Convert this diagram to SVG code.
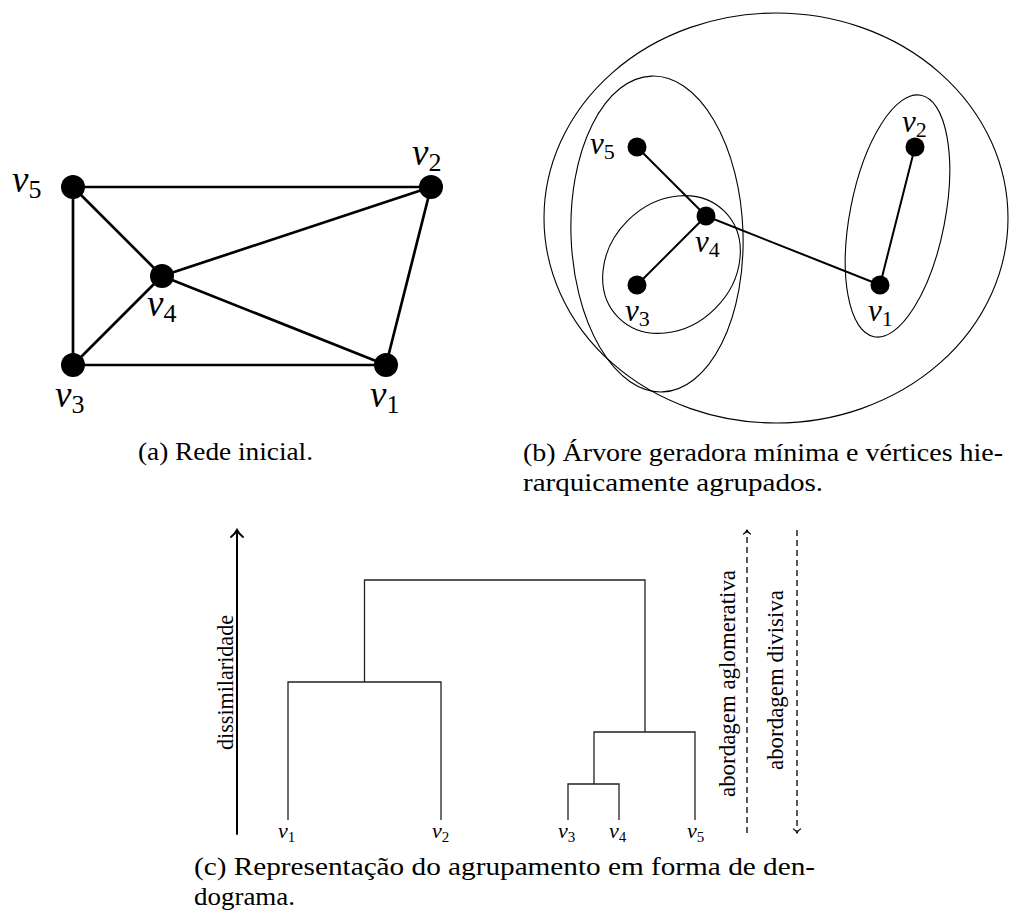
<svg xmlns="http://www.w3.org/2000/svg" width="1035" height="921" viewBox="0 0 1035 921">
<style>
.ea{stroke:#000;stroke-width:2.7;fill:none;stroke-linecap:round}
.eb{stroke:#000;stroke-width:2;fill:none;stroke-linecap:round}
.ell{stroke:#000;stroke-width:1.1;fill:none}
.dn{stroke:#222;stroke-width:1.3;fill:none}
.na{fill:#000}
text{font-family:"Liberation Serif",serif;fill:#000}
.mi{font-style:italic}
.sub{font-style:normal}
.la{font-size:37px}
.la .sub{font-size:26px}
.lb{font-size:31px}
.lb .sub{font-size:22px}
.lc{font-size:22px}
.lc .sub{font-size:15px}
.cap{font-size:25px}
.rot{font-size:23px}
.ax{stroke:#000;stroke-width:2;fill:none;stroke-linecap:round}
.dash{stroke:#000;stroke-width:1.3;fill:none;stroke-dasharray:6 4}
.ah{stroke:#000;stroke-width:1.3;fill:none;stroke-linecap:round;stroke-linejoin:round}
</style>

<!-- Panel (a) -->
<g id="connectors-a">
<line class="ea" x1="73" y1="187" x2="431" y2="187"/>
<line class="ea" x1="73" y1="187" x2="73" y2="365"/>
<line class="ea" x1="73" y1="187" x2="162" y2="276"/>
<line class="ea" x1="162" y1="276" x2="431" y2="187"/>
<line class="ea" x1="162" y1="276" x2="73" y2="365"/>
<line class="ea" x1="162" y1="276" x2="386" y2="365"/>
<line class="ea" x1="73" y1="365" x2="386" y2="365"/>
<line class="ea" x1="386" y1="365" x2="431" y2="187"/>
</g>
<g id="a-v5"><circle class="na" cx="73" cy="187" r="12"/><text class="mi la" x="12" y="192" font-family="Liberation Serif">v<tspan class="sub" dy="6">5</tspan></text></g>
<g id="a-v2"><circle class="na" cx="431" cy="187" r="12"/><text class="mi la" x="412" y="165" font-family="Liberation Serif">v<tspan class="sub" dy="6">2</tspan></text></g>
<g id="a-v4"><circle class="na" cx="162" cy="276" r="12"/><text class="mi la" x="147" y="316" font-family="Liberation Serif">v<tspan class="sub" dy="6">4</tspan></text></g>
<g id="a-v3"><circle class="na" cx="73" cy="365" r="12"/><text class="mi la" x="55" y="407" font-family="Liberation Serif">v<tspan class="sub" dy="6">3</tspan></text></g>
<g id="a-v1"><circle class="na" cx="386" cy="365" r="12"/><text class="mi la" x="370" y="407" font-family="Liberation Serif">v<tspan class="sub" dy="6">1</tspan></text></g>
<text class="cap" x="138" y="460" textLength="175" lengthAdjust="spacingAndGlyphs">(a) Rede inicial.</text>

<!-- Panel (b) -->
<g id="clusters-b">
<ellipse class="ell" cx="776" cy="218" rx="232" ry="205"/>
<ellipse class="ell" cx="657" cy="234" rx="86" ry="158" transform="rotate(-2 657 234)"/>
<ellipse class="ell" cx="671.5" cy="264.5" rx="75" ry="62" transform="rotate(-45 671.5 264.5)"/>
<ellipse class="ell" cx="897.5" cy="216" rx="47.5" ry="123" transform="rotate(11 897.5 216)"/>
</g>
<g id="connectors-b">
<line class="eb" x1="637" y1="147" x2="706" y2="216"/>
<line class="eb" x1="706" y1="216" x2="637" y2="285"/>
<line class="eb" x1="706" y1="216" x2="880" y2="285"/>
<line class="eb" x1="880" y1="285" x2="915" y2="147"/>
</g>
<g id="b-v5"><circle class="na" cx="637" cy="147" r="9.5"/><text class="mi lb" x="590" y="154">v<tspan class="sub" dy="5">5</tspan></text></g>
<g id="b-v4"><circle class="na" cx="706" cy="216" r="9.5"/><text class="mi lb" x="695" y="252">v<tspan class="sub" dy="5">4</tspan></text></g>
<g id="b-v3"><circle class="na" cx="637" cy="285" r="9.5"/><text class="mi lb" x="625" y="321">v<tspan class="sub" dy="5">3</tspan></text></g>
<g id="b-v1"><circle class="na" cx="880" cy="285" r="9.5"/><text class="mi lb" x="868" y="321">v<tspan class="sub" dy="5">1</tspan></text></g>
<g id="b-v2"><circle class="na" cx="915" cy="147" r="9.5"/><text class="mi lb" x="902" y="132">v<tspan class="sub" dy="5">2</tspan></text></g>
<text class="cap" x="523" y="461" textLength="480" lengthAdjust="spacingAndGlyphs">(b) Árvore geradora mínima e vértices hie-</text>
<text class="cap" x="523" y="491" textLength="300" lengthAdjust="spacingAndGlyphs">rarquicamente agrupados.</text>

<!-- Panel (c) -->
<g id="connectors-c">
<path class="dn" d="M288,820 V682 H441 V820"/>
<path class="dn" d="M364.5,682 V580 H645 V732"/>
<path class="dn" d="M594,784 V732 H695 V820"/>
<path class="dn" d="M568,820 V784 H619 V820"/>
</g>
<g id="c-v1"><text class="mi lc" x="278" y="838">v<tspan class="sub" dy="4">1</tspan></text></g>
<g id="c-v2"><text class="mi lc" x="432" y="838">v<tspan class="sub" dy="4">2</tspan></text></g>
<g id="c-v3"><text class="mi lc" x="558" y="838">v<tspan class="sub" dy="4">3</tspan></text></g>
<g id="c-v4"><text class="mi lc" x="609" y="838">v<tspan class="sub" dy="4">4</tspan></text></g>
<g id="c-v5"><text class="mi lc" x="687" y="838">v<tspan class="sub" dy="4">5</tspan></text></g>

<g id="axis">
<line class="ax" x1="237" y1="834" x2="237" y2="531"/>
<path class="ax" d="M231,537 Q235,534 237,530 Q239,534 243,537"/>
<text class="rot" transform="translate(233 682.5) rotate(-90)" text-anchor="middle" textLength="135" lengthAdjust="spacingAndGlyphs">dissimilaridade</text>
</g>
<g id="aglomerativa">
<line class="dash" x1="747" y1="833" x2="747" y2="532"/>
<path class="ah" d="M743.5,534 Q746,532.5 747,530 Q748,532.5 750.5,534"/>
<text class="rot" transform="translate(735 683.5) rotate(-90)" text-anchor="middle" textLength="227" lengthAdjust="spacingAndGlyphs">abordagem aglomerativa</text>
</g>
<g id="divisiva">
<line class="dash" x1="797" y1="530" x2="797" y2="831"/>
<path class="ah" d="M793.5,829 Q796,830.5 797,833 Q798,830.5 800.5,829"/>
<text class="rot" transform="translate(783 680) rotate(-90)" text-anchor="middle" textLength="180" lengthAdjust="spacingAndGlyphs">abordagem divisiva</text>
</g>
<text class="cap" x="194" y="875" textLength="621" lengthAdjust="spacingAndGlyphs">(c) Representação do agrupamento em forma de den-</text>
<text class="cap" x="194" y="905" textLength="101" lengthAdjust="spacingAndGlyphs">dograma.</text>
</svg>
